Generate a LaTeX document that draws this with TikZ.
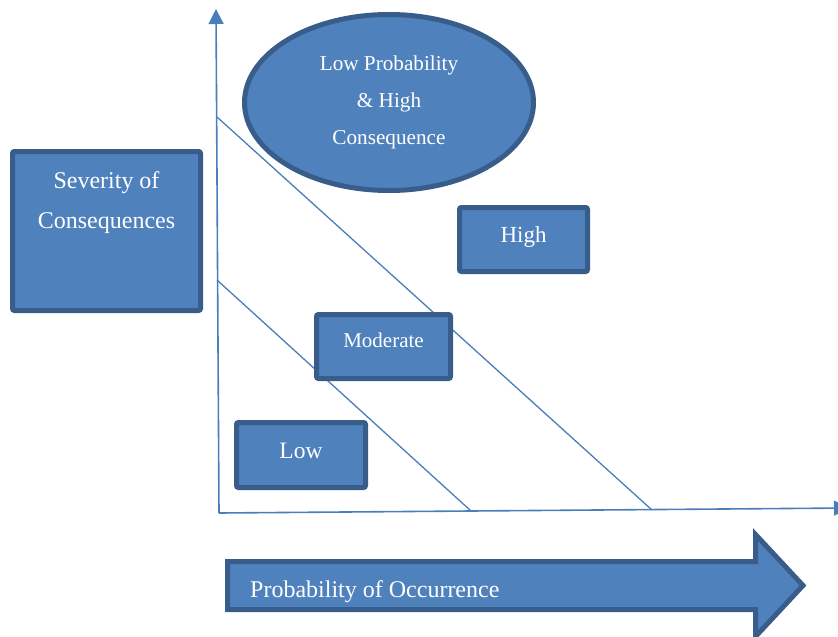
\documentclass[tikz,border=0pt]{standalone}
\usepackage{fontspec}
\setmainfont{Liberation Serif}
\usetikzlibrary{arrows.meta, shapes.geometric}
\definecolor{RiskFill}{HTML}{4F81BD}
\definecolor{RiskDark}{HTML}{385D8A}
\definecolor{RiskLine}{HTML}{4A7EBB}

\begin{document}
\begin{tikzpicture}[x=1pt, y=-1pt, >={Triangle[length=15pt, width=15pt]},
        box/.style={rectangle, draw=RiskDark, fill=RiskFill, line width=5pt, rounded corners=2pt, text=white, align=center, text height=16pt, text depth=11pt},
        oval/.style={ellipse, draw=RiskDark, fill=RiskFill, line width=5pt, text=white, align=center},
        axis/.style={->, RiskLine, line width=1.6pt},
        band/.style={RiskLine, line width=1.3pt}
    ]
    \useasboundingbox (0,0) rectangle (838,637);

    % Axes
    \coordinate (origin) at (219,513);
    \coordinate (ytip) at (216,9);
    \coordinate (xtip) at (849,508);
    \draw[axis] (origin) -- (ytip);
    \draw[axis] (origin) -- (xtip);

    % Risk bands
    \coordinate (highA) at (217,117);
    \coordinate (highB) at (652,510);
    \coordinate (lowA) at (217,280);
    \coordinate (lowB) at (471,511);
    \draw[band] (highA) -- (highB);
    \draw[band] (lowA) -- (lowB);

    % Labels
    \node[oval, minimum width=289, minimum height=176, font=\fontsize{21.2}{36.7}\selectfont] (lphc) at (389,102.5) {Low Probability\\\& High\\Consequence};
    \node[box, minimum width=188, minimum height=159, font=\fontsize{24}{40}\selectfont, text height=57pt, text depth=63pt] (severity) at (106.5,231) {Severity of\\Consequences};
    \node[box, minimum width=128, minimum height=64, font=\fontsize{23}{28}\selectfont] (high) at (523.5,239.5) {High};
    \node[box, minimum width=134, minimum height=64, font=\fontsize{21}{25}\selectfont, text depth=15pt] (moderate) at (383.5,346.5) {Moderate};
    \node[box, minimum width=129, minimum height=65, font=\fontsize{23.5}{28}\selectfont, text depth=10pt] (low) at (301,455) {Low};

    % Probability arrow
    \draw[draw=RiskDark, fill=RiskFill, line width=5pt] (227.5,561.5) -- (755.5,561.5) -- (755.5,534.5) -- (803,585.5) -- (755.5,636.5) -- (755.5,609.5) -- (227.5,609.5) -- cycle;
    \node[anchor=base west, inner sep=0pt, text=white, font=\fontsize{24}{28}\selectfont] (probability) at (250,597) {Probability of Occurrence};

\end{tikzpicture}
\end{document}
